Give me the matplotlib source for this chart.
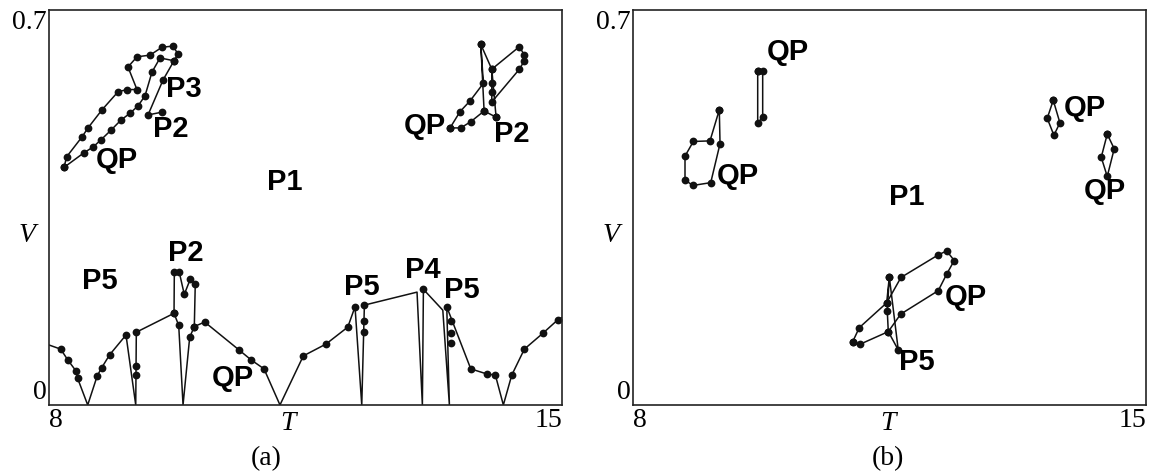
import numpy as np
import matplotlib
matplotlib.use("Agg")
import matplotlib.pyplot as plt

# ---- panel (a) data ----
# bottom curve, dot flag = 1 where a point is drawn
a_bot_T = [8.0, 8.153, 8.249, 8.358, 8.385, 8.522, 8.653, 8.713, 8.822, 9.045, 9.178, 9.186,
           9.701, 9.765, 9.824, 9.915, 9.978, 10.120, 10.589, 10.753, 10.930, 11.148, 11.467,
           11.777, 12.074, 12.173, 12.265, 12.301, 13.020, 13.093, 13.107, 13.372, 13.462,
           13.426, 13.754, 13.973, 14.090, 14.199, 14.314, 14.486, 14.738, 14.943, 15.0]
a_bot_V = [0.106, 0.099, 0.080, 0.061, 0.047, 0.0, 0.052, 0.066, 0.089, 0.124, 0.0, 0.129,
           0.1625, 0.141, 0.0, 0.120, 0.139, 0.147, 0.0975, 0.080, 0.064, 0.0, 0.087,
           0.108, 0.138, 0.174, 0.0, 0.177, 0.200, 0.0, 0.205, 0.168, 0.0,
           0.174, 0.064, 0.055, 0.053, 0.0, 0.053, 0.099, 0.127, 0.151, 0.155]
a_bot_dot = [0, 1, 1, 1, 1, 0, 1, 1, 1, 1, 0, 1,
             1, 1, 0, 1, 1, 1, 1, 1, 1, 0, 1,
             1, 1, 1, 0, 1, 0, 0, 1, 0, 0,
             1, 1, 1, 1, 0, 1, 1, 1, 1, 0]
# P2 loop above the bottom curve
a_p2_T = [9.701, 9.705, 9.773, 9.841, 9.923, 9.991, 9.978]
a_p2_V = [0.1625, 0.235, 0.235, 0.196, 0.223, 0.214, 0.139]
# extra dots on the vertical segments
a_ext_T = [9.186, 9.186, 12.301, 12.301, 13.489, 13.489, 13.489]
a_ext_V = [0.069, 0.054, 0.148, 0.129, 0.148, 0.128, 0.109]

# top-left cluster
a_tl1_T = [8.198, 8.235, 8.444, 8.526, 8.717, 8.936, 9.059, 9.195, 9.072, 9.195, 9.373,
           9.537, 9.687, 9.755, 9.701, 9.551, 9.346, 9.537]
a_tl1_V = [0.421, 0.440, 0.475, 0.491, 0.523, 0.555, 0.559, 0.559, 0.599, 0.617, 0.620,
           0.634, 0.636, 0.622, 0.610, 0.576, 0.514, 0.519]
a_tl2_T = [8.198, 8.471, 8.594, 8.704, 8.840, 8.977, 9.100, 9.209, 9.305, 9.40, 9.510, 9.701]
a_tl2_V = [0.421, 0.447, 0.457, 0.470, 0.487, 0.505, 0.517, 0.530, 0.548, 0.590, 0.615, 0.610]

# top-right cluster
a_tr1_T = [13.471, 13.617, 13.754, 13.936, 14.100]
a_tr1_V = [0.491, 0.491, 0.502, 0.521, 0.510]
a_tr2_T = [13.471, 13.608, 13.745, 13.926, 13.891, 13.936]
a_tr2_V = [0.491, 0.520, 0.539, 0.570, 0.639, 0.521]
a_tr3_T = [13.891, 14.041, 14.418, 14.486, 14.486, 14.418, 14.041, 14.041, 14.041, 14.041, 14.100]
a_tr3_V = [0.639, 0.595, 0.635, 0.620, 0.610, 0.595, 0.537, 0.555, 0.570, 0.595, 0.510]

a_labels = [("P3", 9.83, 0.560), ("P2", 9.65, 0.489), ("QP", 8.92, 0.434), ("P1", 11.22, 0.395),
            ("QP", 13.12, 0.495), ("P2", 14.31, 0.480), ("P2", 9.865, 0.269), ("P5", 8.69, 0.220),
            ("QP", 10.51, 0.048), ("P5", 12.27, 0.209), ("P4", 13.10, 0.239), ("P5", 13.63, 0.204)]

# ---- panel (b) data ----
b_l1_T = [9.177, 9.050, 8.823, 8.709, 8.709, 8.814, 9.060, 9.187, 9.177]
b_l1_V = [0.523, 0.468, 0.467, 0.441, 0.399, 0.389, 0.394, 0.463, 0.523]
b_l2_T = [9.701, 9.769, 9.769, 9.701, 9.701]
b_l2_V = [0.591, 0.592, 0.510, 0.500, 0.591]
b_r1_T = [13.734, 13.652, 13.743, 13.825, 13.734]
b_r1_V = [0.540, 0.508, 0.478, 0.500, 0.540]
b_r2_T = [14.471, 14.389, 14.471, 14.566, 14.471]
b_r2_V = [0.480, 0.439, 0.405, 0.454, 0.480]
b_m1_T = [10.997, 11.087, 11.461, 11.656, 12.165, 12.280, 12.383, 12.280, 12.165, 11.652,
          11.483, 11.097, 10.997]
b_m1_V = [0.112, 0.137, 0.181, 0.226, 0.266, 0.273, 0.256, 0.232, 0.2026, 0.161,
          0.130, 0.1076, 0.112]
b_m2_T = [11.461, 11.497, 11.619, 11.483, 11.469, 11.497]
b_m2_V = [0.181, 0.227, 0.0975, 0.130, 0.167, 0.227]

b_labels = [("QP", 10.115, 0.626), ("QP", 9.43, 0.406), ("P1", 11.74, 0.369), ("QP", 14.17, 0.526),
            ("QP", 14.44, 0.379), ("QP", 12.54, 0.191), ("P5", 11.875, 0.076)]

plt.rcParams['font.family'] = ['Liberation Serif', 'DejaVu Serif']
LAB = dict(family='Liberation Sans', fontweight='bold', fontsize=21, ha='center', va='center')
MS = 5.6
FS = 20


def chain(ax, T, V, dots=True):
    ax.plot(T, V, '-', color='#111111', lw=1.1)
    if dots:
        ax.plot(T, V, 'o', color='#111111', ms=MS, mec='none')


def frame(ax, tag, t_pos, tag_x):
    ax.set_xlim(8, 15)
    ax.set_ylim(0, 0.7)
    ax.set_xticks([8, 15])
    ax.set_xticklabels(['8', '15'])
    ax.set_yticks([0, 0.7])
    ax.set_yticklabels(['0', '0.7'])
    ax.tick_params(length=0, labelsize=FS, pad=2)
    xl = ax.get_xticklabels()
    xl[0].set_ha('left')
    xl[1].set_ha('right')
    yl = ax.get_yticklabels()
    yl[0].set_va('bottom')
    yl[1].set_va('top')
    for s in ax.spines.values():
        s.set_linewidth(1.2)
        s.set_color('#222222')
    ax.text(t_pos, -0.01, 'T', style='italic', fontsize=FS, ha='center', va='top')
    ax.text(-0.043, 0.43, 'V', style='italic', fontsize=FS, ha='center', va='center',
            transform=ax.transAxes)
    ax.text(tag_x, -0.105, tag, fontsize=FS, ha='center', va='top', transform=ax.transAxes)


fig = plt.figure(figsize=(11.59, 4.73), dpi=100)
ax1 = fig.add_axes([0.0427, 0.1438, 0.4422, 0.8351])
ax2 = fig.add_axes([0.5462, 0.1438, 0.4426, 0.8351])

# panel (a)
chain(ax1, a_bot_T, a_bot_V, dots=False)
bt = [t for t, d in zip(a_bot_T, a_bot_dot) if d]
bv = [v for v, d in zip(a_bot_V, a_bot_dot) if d]
ax1.plot(bt, bv, 'o', color='#111111', ms=MS, mec='none')
chain(ax1, a_p2_T, a_p2_V)
ax1.plot(a_ext_T, a_ext_V, 'o', color='#111111', ms=MS, mec='none')
for T, V in [(a_tl1_T, a_tl1_V), (a_tl2_T, a_tl2_V), (a_tr1_T, a_tr1_V),
             (a_tr2_T, a_tr2_V), (a_tr3_T, a_tr3_V)]:
    chain(ax1, T, V)
for s, t, v in a_labels:
    ax1.text(t, v, s, **LAB)
frame(ax1, '(a)', 11.26, 0.422)

# panel (b)
for T, V in [(b_l1_T, b_l1_V), (b_l2_T, b_l2_V), (b_r1_T, b_r1_V),
             (b_r2_T, b_r2_V), (b_m1_T, b_m1_V), (b_m2_T, b_m2_V)]:
    chain(ax2, T, V)
for s, t, v in b_labels:
    ax2.text(t, v, s, **LAB)
frame(ax2, '(b)', 11.48, 0.497)

fig.savefig('out.png', dpi=100)
